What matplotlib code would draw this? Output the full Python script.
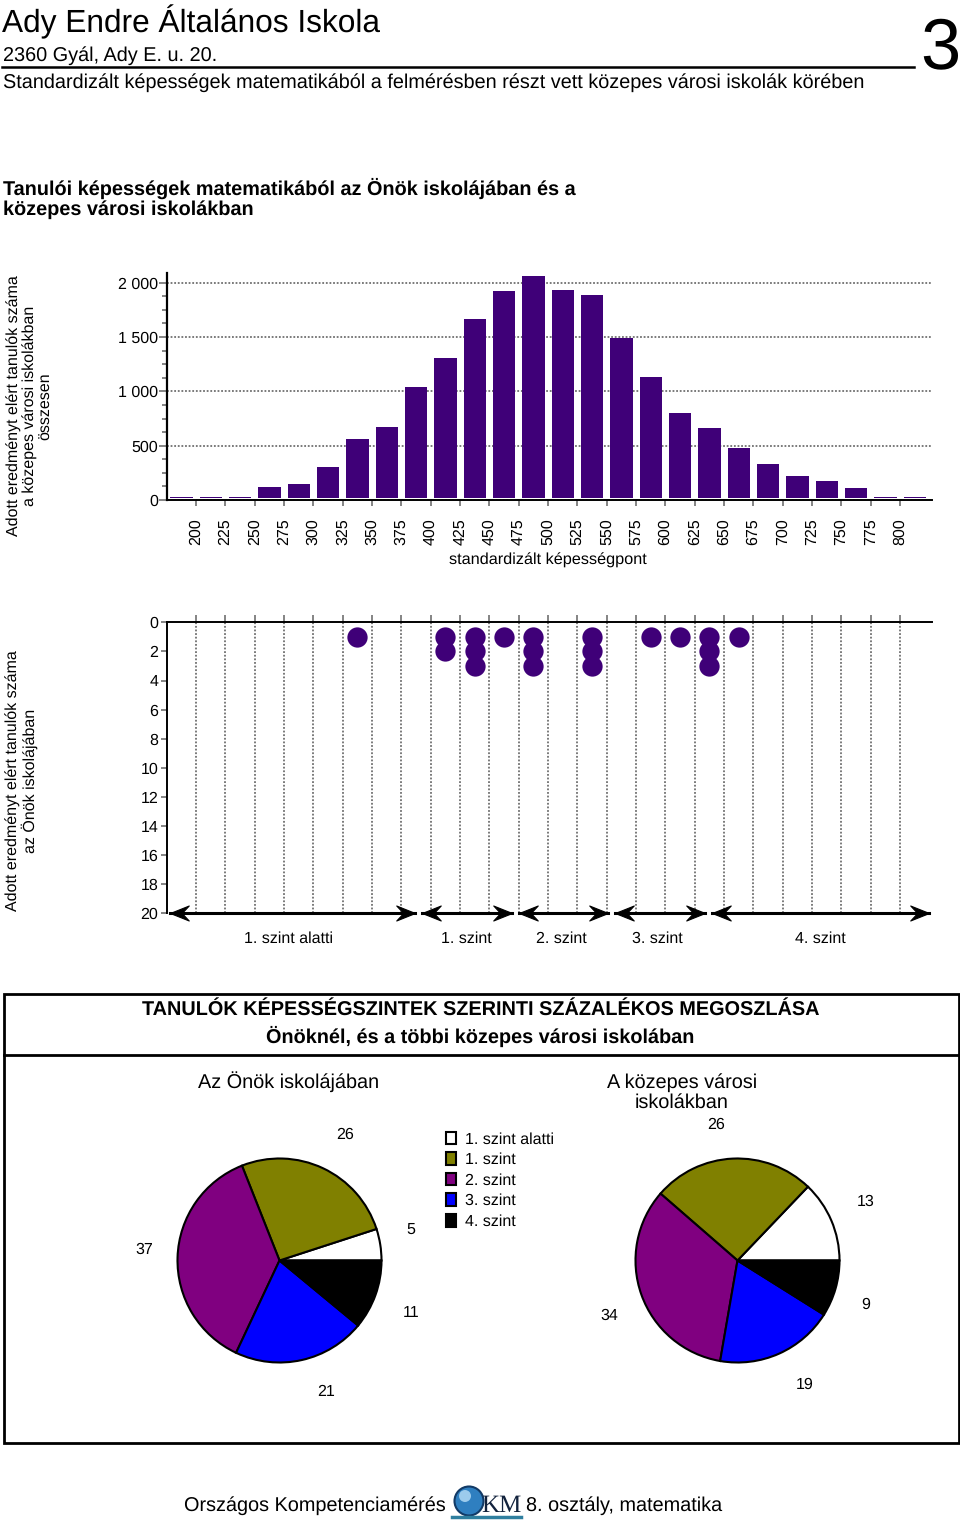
#coding:utf-8
"""
Ady Endre Általános Iskola - standardizált képességek matematikából
"""
import matplotlib
matplotlib.use("Agg")
import matplotlib.pyplot as plt
from matplotlib.patches import Circle, Patch, Rectangle
from matplotlib.path import Path

plt.rcParams["font.family"] = ["Liberation Sans", "DejaVu Sans"]
plt.rcParams["text.hinting"] = "no_hinting"

#data
score_ticks = list(range(200, 801, 25))
bar_scores = [187.5 + 25 * i for i in range(26)]
bar_counts = [28, 28, 28, 123, 150, 300, 558, 669, 1037, 1310, 1663, 1923, 2061,
              1936, 1883, 1491, 1132, 804, 666, 475, 328, 218, 178, 107, 28, 28]
dot_scores = [337.5, 412.5, 437.5, 462.5, 487.5, 537.5, 587.5, 612.5, 637.5, 662.5]
dot_counts = [1, 2, 3, 1, 3, 3, 1, 1, 3, 1]
level_names = ["1. szint alatti", "1. szint", "2. szint", "3. szint", "4. szint"]
level_starts = [178, 393, 475, 557, 640]
level_ends = [387, 469, 551, 634, 825]
pie_names = ["1. szint alatti", "1. szint", "2. szint", "3. szint", "4. szint"]
pie_colors = ["white", "#808000", "#800080", "#0000FF", "black"]
school_share = [5, 26, 37, 21, 11]
city_share = [13, 26, 34, 19, 9]

PURPLE = "#3F0078"
GRAY = "#707070"
W, H = 960, 1524
TICK = 11.5  #tengelyfeliratok mérete
DOTS = (0, (1, 1))

fig = plt.figure(figsize=(W / 100, H / 100), dpi=100, facecolor="white")


def axes_px(left, top, right, bottom):
    return fig.add_axes([left / W, 1 - bottom / H, (right - left) / W, (bottom - top) / H])


#háttér, pixel koordinátákkal
bg = fig.add_axes([0, 0, 1, 1])
bg.set_xlim(0, W)
bg.set_ylim(H, 0)
bg.axis("off")

bg.text(2, 32, "Ady Endre Általános Iskola", fontsize=22.8, va="baseline")
bg.text(3, 61, "2360 Gyál, Ady E. u. 20.", fontsize=14.3, va="baseline")
bg.plot([2, 914], [67, 67], color="black", lw=1.8)
bg.text(3, 88, "Standardizált képességek matematikából a felmérésben részt vett közepes városi iskolák körében",
        fontsize=14.27, va="baseline")
bg.text(960, 68, "3", fontsize=52, va="baseline", ha="right")
bg.text(3, 195, "Tanulói képességek matematikából az Önök iskolájában és a", fontsize=14.3,
        fontweight="bold", va="baseline")
bg.text(3, 215, "közepes városi iskolákban", fontsize=14.3, fontweight="bold", va="baseline")

bg.text(30, 406, "Adott eredményt elért tanulók száma\na közepes városi iskolákban\nösszesen",
        fontsize=TICK, rotation=90, ha="center", va="center", linespacing=1.05)
bg.text(548, 560.5, "standardizált képességpont", fontsize=11.7, ha="center", va="center")
bg.text(22, 781, "Adott eredményt elért tanulók száma\naz Önök iskolájában",
        fontsize=TICK, rotation=90, ha="center", va="center", linespacing=1.05)

for name, x in zip(level_names, [289, 466, 561, 657, 820]):
    bg.text(x, 938.5, name, fontsize=TICK, ha="center", va="center")

#keret
bg.add_patch(Rectangle((3.5, 993.5), 955, 449, fill=False, ec="black", lw=2))
bg.plot([3.5, 958.5], [1055, 1055], color="black", lw=2)
bg.text(480.5, 1015, "TANULÓK KÉPESSÉGSZINTEK SZERINTI SZÁZALÉKOS MEGOSZLÁSA", fontsize=14.35,
        fontweight="bold", ha="center", va="baseline")
bg.text(480.5, 1043, "Önöknél, és a többi közepes városi iskolában", fontsize=14.3,
        fontweight="bold", ha="center", va="baseline")
bg.text(289, 1088, "Az Önök iskolájában", fontsize=14.3, ha="center", va="baseline")
bg.text(682, 1088, "A közepes városi", fontsize=14.3, ha="center", va="baseline")
bg.text(682, 1108, "iskolákban", fontsize=14.3, ha="center", va="baseline")

#lábléc
bg.text(446, 1511, "Országos Kompetenciamérés", fontsize=14.3, ha="right", va="baseline")
bg.text(526, 1511, "8. osztály, matematika", fontsize=14.3, ha="left", va="baseline")
bg.add_patch(Circle((469, 1501), 14.5, fc="#2F7FC0", ec="#123A66", lw=1.5))
bg.add_patch(Circle((465, 1496), 6, fc="#9CCBEC", ec="none"))
bg.text(481, 1512, "KM", family="Liberation Serif", fontsize=18, va="baseline", color="#12223C")
bg.plot([452, 521], [1517, 1517], color="#2F7F9F", lw=2.5)

#hisztogram
ax1 = axes_px(166.7, 272.7, 931.7, 500)
ax1.set_xlim(175, 827)
ax1.set_ylim(0, 2092)
ax1.bar(bar_scores, [v - 15 for v in bar_counts], bottom=15, width=19, color=PURPLE, zorder=3)
ax1.set_xticks(score_ticks)
ax1.set_xticklabels(score_ticks, rotation=90, fontsize=TICK)
ax1.set_yticks([0, 500, 1000, 1500, 2000])
ax1.set_yticklabels(["0", "500", "1 000", "1 500", "2 000"], fontsize=TICK)
ax1.set_yticks(range(0, 2001, 125), minor=True)
ax1.tick_params(axis="x", length=4, width=1.2, color=GRAY, pad=9)
ax1.tick_params(axis="y", which="major", length=6, width=1.2, color=GRAY, pad=0.3)
ax1.tick_params(axis="y", which="minor", length=3.5, width=1.2, color=GRAY)
ax1.grid(axis="y", color=GRAY, linestyle=DOTS, lw=1.3, zorder=1)
ax1.set_axisbelow(True)
ax1.spines[["top", "right"]].set_visible(False)
ax1.spines["left"].set_linewidth(1.6)
ax1.spines["bottom"].set_linewidth(1.4)

#az iskola tanulói
ax2 = axes_px(166.7, 622.3, 931.7, 913.3)
ax2.set_xlim(175, 827)
ax2.set_ylim(20, 0)
for score, count in zip(dot_scores, dot_counts):
    ax2.plot([score] * count, [i + 1 for i in range(count)], "o", ms=14.6, mfc=PURPLE, mec=PURPLE,
             mew=0, clip_on=False, zorder=4)
ax2.xaxis.tick_top()
ax2.set_xticks(score_ticks)
ax2.set_xticklabels([])
ax2.set_yticks(range(0, 21, 2))
ax2.tick_params(axis="x", length=5, width=1.2, color=GRAY)
ax2.tick_params(axis="y", length=4, width=1.2, color=GRAY, pad=2, labelsize=TICK)
ax2.grid(axis="x", color=GRAY, linestyle=DOTS, lw=1.3, zorder=1)
ax2.set_axisbelow(True)
ax2.spines[["bottom", "right"]].set_visible(False)
ax2.spines["left"].set_linewidth(1.4)
ax2.spines["top"].set_linewidth(1.4)

#szintek nyilai
head_right = Path([(0, 0), (-1, 0.4), (-0.72, 0.1), (-0.72, -0.1), (-1, -0.4), (0, 0)], closed=True)
head_left = Path([(0, 0), (1, 0.4), (0.72, 0.1), (0.72, -0.1), (1, -0.4), (0, 0)], closed=True)
for start, end in zip(level_starts, level_ends):
    ax2.plot([start, end], [20, 20], color="black", lw=2.2, clip_on=False, zorder=5)
    ax2.plot([end], [20], marker=head_right, ms=27, mfc="black", mec="black", mew=0.8, clip_on=False, zorder=5)
    ax2.plot([start], [20], marker=head_left, ms=27, mfc="black", mec="black", mew=0.8, clip_on=False, zorder=5)


def draw_pie(cx, cy, share, label_xy):
    ax = axes_px(cx - 102, cy - 102, cx + 102, cy + 102)
    ax.pie(share, colors=pie_colors, startangle=0, counterclock=True, radius=1,
           wedgeprops=dict(edgecolor="black", linewidth=1.5, clip_on=False))
    ax.set_xlim(-1, 1)
    ax.set_ylim(-1, 1)
    for val, (x, y) in zip(share, label_xy):
        bg.text(x, y, str(val), fontsize=TICK, ha="center", va="center")


draw_pie(279.5, 1260.5, school_share, [(411, 1230), (345, 1135), (144, 1250), (326, 1392), (411, 1313)])
draw_pie(737.5, 1260.5, city_share, [(866, 1202), (716, 1125), (609, 1316), (805, 1385), (866, 1305)])

handles = [Patch(fc=c, ec="black", lw=1.5) for c in pie_colors]
fig.legend(handles, pie_names, loc="upper left", bbox_to_anchor=(441 / W, 1 - 1127 / H), frameon=False,
           fontsize=TICK, handlelength=0.63, handleheight=0.83, handletextpad=0.56, labelspacing=0.34,
           borderpad=0.3, borderaxespad=0)

fig.savefig("out.png", dpi=100, facecolor="white")
